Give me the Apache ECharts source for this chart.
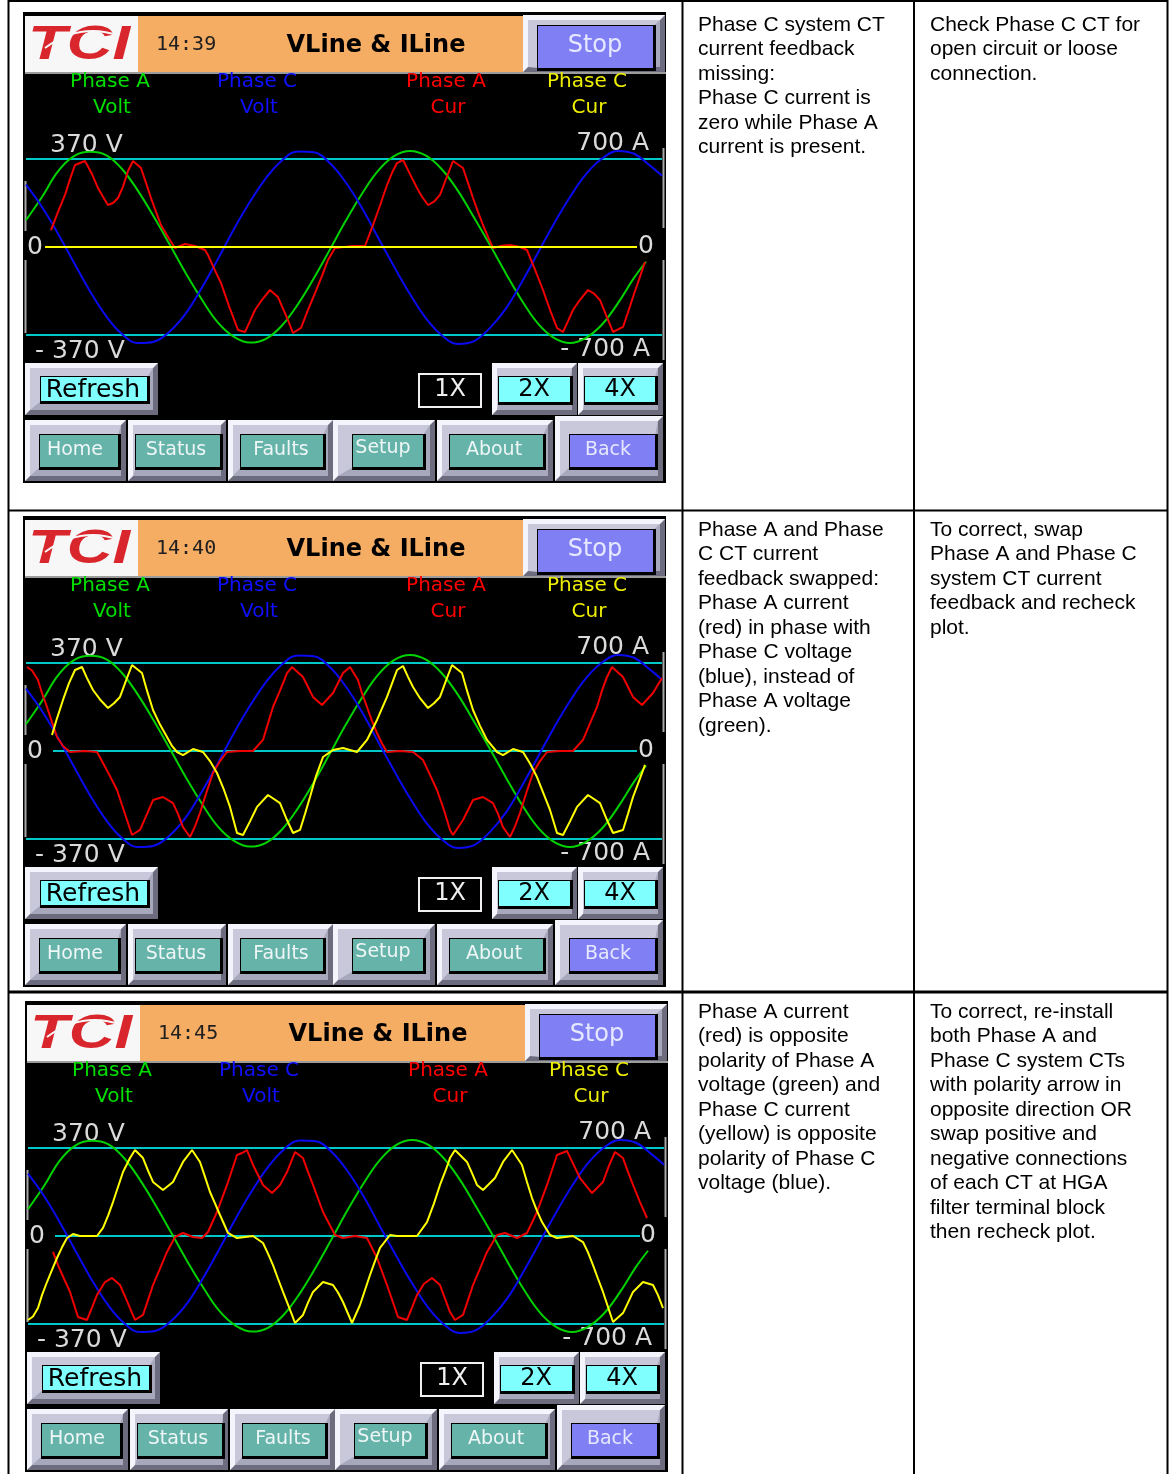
<!DOCTYPE html>
<html><head><meta charset="utf-8">
<script src="https://cdn.jsdelivr.net/npm/echarts@6/dist/echarts.min.js"></script>
<style>html,body{margin:0;padding:0;background:#fff}#c{width:1173px;height:1474px}</style>
</head><body><div id="c"></div><script>
// ---------- DATA (x = sample index across the sweep, 2 px per sample; V in volts, I in amps) ----------
const timeStamps = ['14:39', '14:40', '14:45'];
const legendTop = ['Phase A', 'Phase C', 'Phase A', 'Phase C'];
const legendBottom = ['Volt', 'Volt', 'Cur', 'Cur'];
const voltTicks = ['370 V', '0', '- 370 V'];
const currTicks = ['700 A', '0', '- 700 A'];
const voltRange = [-370, 370];
const currRange = [-700, 700];
const navButtons = ['Home', 'Status', 'Faults', 'Setup', 'About', 'Back'];
const zoomButtons = ['1X', '2X', '4X'];

// Phase voltages (same in all three screens)
const phaseAVolt = [[0,113],[8,210],[16,318],[24,382],[32,400],[40,386],[48,328],[56,236],[64,126],[72,8],[80,-112],[88,-222],[96,-318],[104,-378],[112,-402],[120,-386],[128,-330],[136,-240],[144,-130],[152,-10],[160,112],[168,224],[176,320],[184,382],[192,404],[200,384],[208,326],[216,236],[224,124],[232,8],[240,-112],[248,-226],[256,-322],[264,-382],[272,-404],[280,-382],[288,-326],[296,-236],[304,-130],[310,-62]];
const phaseCVolt = [[0,262],[8,168],[16,56],[24,-66],[32,-186],[40,-290],[48,-366],[56,-404],[64,-398],[72,-354],[80,-278],[88,-170],[96,-50],[104,76],[112,190],[120,290],[128,364],[136,402],[144,398],[152,352],[160,270],[168,164],[176,40],[184,-82],[192,-198],[200,-300],[208,-372],[216,-408],[224,-396],[232,-340],[240,-258],[248,-146],[256,-24],[264,98],[272,210],[280,306],[288,372],[296,404],[304,392],[312,342],[318,300]];

// Screen 1: Phase C CT missing
const p1PhaseACur = [[12.5,135],[16,280],[19.5,414],[22,540],[24.5,652],[27,668],[29.5,684],[33,580],[36,469],[38.5,400],[41,334],[43.5,350],[46,390],[48.5,480],[51,605],[53.5,684],[57.5,628],[60,510],[62.5,390],[65,280],[67.5,175],[71,80],[74.5,-8],[79.5,24],[84.5,8],[89.5,-24],[91,-64],[94,-170],[97.5,-286],[101.5,-470],[106,-660],[109.5,-676],[112,-590],[114.5,-501],[118,-420],[122,-342],[126,-398],[128.5,-490],[131,-581],[133.5,-684],[137.5,-644],[141,-500],[144.5,-366],[148,-230],[151,-103],[154.5,-8],[159,0],[163.5,8],[169.5,8],[173.5,175],[177,330],[180.5,493],[183,590],[185.5,668],[188.5,692],[192,580],[195.5,469],[198,400],[201,334],[204,360],[207,414],[210,540],[213.5,684],[218.5,628],[221,510],[223.5,390],[226,280],[228.5,175],[231,80],[233.5,-8],[238,10],[242,16],[247,0],[250.5,-24],[254.5,-180],[258.5,-342],[262,-500],[265.5,-644],[268.5,-676],[271,-590],[273.5,-501],[277,-420],[281,-342],[284,-370],[287,-422],[290,-540],[293.5,-676],[298.5,-636],[301,-520],[303.5,-398],[306.5,-260],[309.5,-119]];
const p1PhaseCCur = [[9.5,0],[60,0],[120,0],[180,0],[240,0],[305.5,0]];

// Screen 2: Phase A / Phase C CT swapped
const p2PhaseACur = [[0.5,668],[3,640],[6,565],[8,460],[10.5,350],[13,230],[15.5,111],[18.5,40],[22,-8],[29.5,0],[35.5,-8],[38.5,-95],[42,-200],[45.5,-310],[48,-430],[50.5,-549],[53,-668],[57,-628],[60,-520],[63.5,-390],[68.5,-366],[73.5,-414],[76,-500],[78.5,-605],[82,-684],[84.5,-600],[87,-493],[90,-340],[93.5,-175],[97,-80],[100.5,-8],[107,0],[113.5,0],[118.5,88],[121,220],[123.5,350],[127,480],[130.5,620],[133,668],[138.5,589],[143.5,430],[148,366],[153.5,461],[158.5,620],[162,668],[166,565],[168,460],[170.5,350],[173,240],[175.5,143],[178,60],[180.5,-8],[187,0],[193.5,-8],[198.5,-72],[202,-190],[205.5,-310],[209,-470],[212,-628],[213.5,-668],[218.5,-549],[223.5,-390],[228.5,-366],[233.5,-414],[236,-500],[238.5,-605],[242,-684],[244.5,-600],[247,-493],[250,-340],[253.5,-175],[257,-80],[260.5,-8],[267,0],[273.5,0],[278.5,88],[282,220],[285.5,350],[288,480],[290.5,589],[293,668],[298.5,589],[303.5,430],[308,366],[313.5,461],[318,581]];
const p2PhaseCCur = [[13,127],[15.5,260],[18.5,406],[21.5,540],[24.5,644],[28,668],[30.5,580],[33.5,485],[37,410],[41,342],[44,380],[47,430],[50,560],[53,684],[58,620],[60.5,480],[63.5,326],[67,210],[70.5,111],[73,40],[75.5,-8],[78.5,-32],[83.5,16],[88.5,-8],[92,-80],[95.5,-175],[99,-310],[102,-445],[105.5,-652],[108.5,-668],[112,-560],[115.5,-445],[121,-350],[127,-414],[130.5,-549],[133.5,-652],[137,-628],[139.5,-500],[142,-366],[145,-200],[148.5,-48],[153.5,8],[158.5,24],[165.5,-8],[170.5,88],[175.5,247],[180.5,430],[185.5,644],[188.5,676],[191,590],[193.5,509],[197,420],[201,342],[204,380],[207,430],[210,560],[213,684],[218,620],[220.5,480],[223.5,326],[227,200],[230.5,88],[235.5,-8],[238.5,-32],[243.5,16],[248.5,-8],[252,-100],[255.5,-207],[262,-469],[265.5,-652],[268.5,-668],[272,-560],[275.5,-445],[281,-350],[287,-414],[290.5,-549],[293.5,-652],[298.5,-628],[301,-500],[303.5,-366],[306.5,-240],[309.5,-111]];

// Screen 3: both CTs reversed polarity
const p3PhaseACur = [[12.5,-127],[15,-231],[18,-340],[21,-445],[25,-644],[29.5,-668],[32,-570],[34.5,-469],[38.5,-366],[42,-334],[46,-390],[48.5,-480],[51,-573],[53.5,-668],[57.5,-628],[60,-510],[62.5,-390],[66,-260],[69.5,-127],[73.5,-8],[77.5,24],[82.5,-8],[87,-16],[90,32],[94.5,191],[99.5,406],[104.5,644],[107,660],[109.5,684],[112.5,565],[117.5,406],[122,342],[126,406],[129.5,509],[133.5,668],[137.5,620],[140,510],[142.5,406],[147.5,191],[153.5,8],[157.5,-16],[163.5,0],[169.5,-16],[174.5,-175],[179.5,-390],[185,-644],[189.5,-668],[192,-570],[194.5,-469],[198,-380],[202,-334],[206,-390],[211,-605],[213.5,-668],[217.5,-628],[220,-510],[222.5,-390],[226,-260],[229.5,-127],[234.5,8],[238.5,24],[244.5,-16],[249.5,24],[254.5,191],[259.5,406],[264.5,644],[269.5,676],[273,560],[276,461],[282,342],[287.5,430],[290.5,560],[293.5,668],[297.5,620],[300,510],[302.5,406],[306,270],[309.5,143]];
const p3PhaseCCur = [[0,-668],[2.5,-640],[5,-573],[7,-470],[9.5,-366],[12,-270],[14.5,-175],[17,-90],[19.5,-16],[22.5,16],[26,0],[34.5,0],[37.5,64],[40,160],[42.5,270],[45,390],[47.5,509],[51,620],[53.5,684],[57.5,620],[60,520],[62.5,430],[67.5,366],[72.5,430],[75,510],[77.5,589],[82,684],[86,589],[88.5,470],[91,350],[93.5,260],[96,167],[100,24],[104.5,-16],[112.5,0],[117.5,-56],[120,-140],[122.5,-231],[125,-340],[127.5,-445],[132,-628],[133.5,-692],[137.5,-628],[140,-530],[142.5,-445],[147.5,-366],[152.5,-390],[155,-450],[157.5,-525],[162,-692],[166,-549],[168.5,-430],[171,-310],[173.5,-200],[176,-95],[181,8],[184.5,0],[194.5,0],[199.5,111],[203,260],[206,406],[209,530],[211,620],[213.5,684],[219.5,589],[222,500],[224.5,406],[227.5,366],[233.5,461],[237.5,589],[242,684],[247,565],[249.5,430],[252,302],[254.5,200],[257,111],[261,8],[264.5,-16],[272.5,0],[277.5,-48],[280,-130],[282.5,-231],[285,-340],[287.5,-445],[292.5,-684],[297.5,-613],[300,-530],[302.5,-445],[307.5,-366],[312.5,-390],[315,-470],[317.5,-573]];

const causeLines = [
  ['Phase C system CT', 'current feedback', 'missing:', 'Phase C current is', 'zero while Phase A', 'current is present.'],
  ['Phase A and Phase', 'C CT current', 'feedback swapped:', 'Phase A current', '(red) in phase with', 'Phase C voltage', '(blue), instead of', 'Phase A voltage', '(green).'],
  ['Phase A current', '(red) is opposite', 'polarity of Phase A', 'voltage (green) and', 'Phase C current', '(yellow) is opposite', 'polarity of Phase C', 'voltage (blue).']
];
const actionLines = [
  ['Check Phase C CT for', 'open circuit or loose', 'connection.'],
  ['To correct, swap', 'Phase A and Phase C', 'system CT current', 'feedback and recheck', 'plot.'],
  ['To correct, re-install', 'both Phase A and', 'Phase C system CTs', 'with polarity arrow in', 'opposite direction OR', 'swap positive and', 'negative connections', 'of each CT at HGA', 'filter terminal block', 'then recheck plot.']
];

// ---------- LAYOUT / STYLE ----------
const panels = [
  {ox: 23, oy: 12, zeroStart: 9.5, zeroEnd: 305.5, aCur: p1PhaseACur, cCur: p1PhaseCCur, rowTop: 12.75},
  {ox: 23, oy: 516, zeroStart: 13.5, zeroEnd: 305.5, aCur: p2PhaseACur, cCur: p2PhaseCCur, rowTop: 517.75},
  {ox: 25, oy: 1001, zeroStart: 13.5, zeroEnd: 306, aCur: p3PhaseACur, cCur: p3PhaseCCur, rowTop: 999.75}
];
const COL = {green: '#00D200', blue: '#0A0AF0', red: '#F00000', yellow: '#FFFF00', cyan: '#00C8C8'};
const legendColors = ['#00E000', '#1010FF', '#FF0000', '#EEEE00'];
const legendX = [87, 234, 423, 564];
const DJ = '"DejaVu Sans"';

const graphics = [];
function add(e) { e.silent = true; graphics.push(e); }

function bevel(ox, oy, x, y, w, h, fx, fy, fw, fh, face) {
  x += ox; y += oy; fx += ox; fy += oy;
  add({type: 'rect', z: 1, shape: {x, y, width: w, height: h}, style: {fill: '#6C6C7E'}});
  add({type: 'polygon', z: 1, shape: {points: [[x, y], [x + w, y], [x + w - 5, y + 5], [x + 5, y + 5], [x + 5, y + h - 5], [x, y + h]]}, style: {fill: '#F4F4FC'}});
  add({type: 'rect', z: 1, shape: {x: x + 5, y: y + 5, width: w - 10, height: h - 10}, style: {fill: '#A8A8BC'}});
  add({type: 'polygon', z: 1, shape: {points: [[x + 5, y + 5], [x + w - 5, y + 5], [fx + fw, fy], [fx, fy], [fx, fy + fh], [x + 5, y + h - 5]]}, style: {fill: '#C8C8DA'}});
  add({type: 'rect', z: 1, shape: {x: fx - 1, y: fy - 1, width: fw + 4, height: fh + 4}, style: {fill: '#000'}});
  add({type: 'rect', z: 1, shape: {x: fx, y: fy, width: fw, height: fh}, style: {fill: face}});
}
function txt(x, y, text, font, fill, align) {
  add({type: 'text', z: 2, style: {x, y, text, font, fill, align: align || 'center', verticalAlign: 'middle'}});
}

panels.forEach((p, i) => {
  const ox = p.ox, oy = p.oy;
  add({type: 'rect', z: 0, shape: {x: ox, y: oy, width: 643, height: 471}, style: {fill: '#000'}});
  add({type: 'rect', z: 1, shape: {x: ox + 2, y: oy + 4, width: 113, height: 56}, style: {fill: '#F7F7F7'}});
  add({type: 'rect', z: 1, shape: {x: ox + 115, y: oy + 4, width: 386, height: 56}, style: {fill: '#F5AC63'}});
  add({type: 'rect', z: 1, shape: {x: ox + 2, y: oy + 60, width: 641, height: 2}, style: {fill: '#9C9C9C'}});
  // logo
  add({type: 'text', z: 2, x: ox + 56, y: oy + 34, scaleX: 1.32, style: {x: 0, y: 0, text: 'TCI', font: 'italic bold 48px "Liberation Sans"', fill: '#D8262C', align: 'center', verticalAlign: 'middle'}});
  add({type: 'bezierCurve', z: 3, shape: {x1: ox + 22, y1: oy + 36, cpx1: ox + 58, cpy1: oy + 10, x2: ox + 96, y2: oy + 24}, style: {stroke: '#F7F7F7', lineWidth: 2, fill: null}});
  txt(ox + 133, oy + 33, timeStamps[i], '20px "DejaVu Sans Mono"', '#202020', 'left');
  txt(ox + 353, oy + 34, 'VLine & ILine', 'bold 24px ' + DJ, '#000');
  bevel(ox, oy, 500, 3, 142, 57, 515, 14, 115, 42, '#8080F4');
  txt(ox + 572, oy + 34, 'Stop', '24px ' + DJ, '#E6E8FF');
  // legend
  legendTop.forEach((t, k) => {
    txt(ox + legendX[k], oy + 70, t, '20px ' + DJ, legendColors[k]);
    txt(ox + legendX[k] + 2, oy + 96, legendBottom[k], '20px ' + DJ, legendColors[k]);
  });
  // scale labels
  const lf = '25px ' + DJ, lc = '#DADADA';
  txt(ox + 27, oy + 133, voltTicks[0], lf, lc, 'left');
  txt(ox + 4, oy + 235, voltTicks[1], lf, lc, 'left');
  txt(ox + 12, oy + 339, voltTicks[2], lf, lc, 'left');
  txt(ox + 626, oy + 131, currTicks[0], lf, lc, 'right');
  txt(ox + 615, oy + 234, currTicks[1], lf, lc, 'left');
  txt(ox + 627, oy + 337, currTicks[2], lf, lc, 'right');
  // edge bars
  [[2.5, 169, 219], [2.5, 248, 321], [640.5, 136, 216], [640.5, 248, 348]].forEach(b => {
    add({type: 'line', z: 1, shape: {x1: ox + b[0], y1: oy + b[1], x2: ox + b[0], y2: oy + b[2]}, style: {stroke: '#A8A8A8', lineWidth: 2}});
  });
  // refresh + zoom buttons
  bevel(ox, oy, 2, 351, 133, 52, 18, 365, 106, 24, '#80FFFF');
  txt(ox + 70, oy + 378, 'Refresh', '25px ' + DJ, '#000');
  add({type: 'rect', z: 1, shape: {x: ox + 396, y: oy + 362, width: 62, height: 33}, style: {fill: '#000', stroke: '#F0F0F0', lineWidth: 2}});
  txt(ox + 427, oy + 378, zoomButtons[0], '24px ' + DJ, '#F0F0F0');
  bevel(ox, oy, 469, 351, 85, 52, 476, 365, 71, 25, '#80FFFF');
  txt(ox + 511, oy + 378, zoomButtons[1], '24px ' + DJ, '#000');
  bevel(ox, oy, 555, 351, 85, 52, 562, 365, 70, 25, '#80FFFF');
  txt(ox + 597, oy + 378, zoomButtons[2], '24px ' + DJ, '#000');
  // navigation buttons
  const nav = [[2, 101, 17, 78, 52], [105, 98, 113, 84, 153], [205, 105, 218, 82, 258], [310, 102, 330, 70, 360], [414, 116, 427, 93, 471], [532, 108, 547, 85, 585]];
  nav.forEach((n, k) => {
    const back = k === 5;
    bevel(ox, oy, n[0], back ? 404 : 408, n[1], back ? 65 : 61, n[2], 423, n[3], 32, back ? '#8080F4' : '#66B3AA');
    txt(ox + n[4], oy + (k === 3 ? 436 : 438), navButtons[k], '19px ' + DJ, back ? '#E6E8FF' : '#EEF6F6');
  });
  // table text
  add({type: 'text', z: 2, style: {x: 698, y: p.rowTop, text: causeLines[i].join('\n'), font: '21px "Liberation Sans", Arial', lineHeight: 24.5, fill: '#000', align: 'left', verticalAlign: 'top'}});
  add({type: 'text', z: 2, style: {x: 930, y: p.rowTop, text: actionLines[i].join('\n'), font: '21px "Liberation Sans", Arial', lineHeight: 24.5, fill: '#000', align: 'left', verticalAlign: 'top'}});
});

// table rules
[[8, 1, 1168, 1, 2], [8, 510.5, 1168, 510.5, 2], [8, 992, 1168, 992, 3], [8.5, 0, 8.5, 1474, 2], [682.5, 0, 682.5, 1474, 2], [914, 0, 914, 1474, 2], [1167.5, 0, 1167.5, 1474, 2]].forEach(l => {
  add({type: 'line', z: 5, shape: {x1: l[0], y1: l[1], x2: l[2], y2: l[3]}, style: {stroke: '#000', lineWidth: l[4]}});
});

// ---------- CHART ----------
const grids = [], xAxes = [], yAxes = [], series = [];
const extra = 1.25;
panels.forEach((p, i) => {
  grids.push({left: p.ox + 3, top: p.oy + 235 - 110, width: 636, height: 220, show: false});
  xAxes.push({type: 'value', gridIndex: i, min: 0, max: 318, show: false});
  yAxes.push({type: 'value', gridIndex: i, min: voltRange[0] * extra, max: voltRange[1] * extra, show: false});
  yAxes.push({type: 'value', gridIndex: i, min: currRange[0] * extra, max: currRange[1] * extra, show: false});
  const vy = 2 * i, cy = 2 * i + 1;
  series.push({
    type: 'line', xAxisIndex: i, yAxisIndex: vy, data: [], z: 2, silent: true,
    markLine: {silent: true, z: 2, symbol: ['none', 'none'], label: {show: false}, animation: false,
      lineStyle: {color: COL.cyan, width: 2, type: 'solid'},
      data: [{yAxis: voltRange[1]}, {yAxis: voltRange[0]}, [{coord: [p.zeroStart, 0]}, {coord: [p.zeroEnd, 0]}]]}
  });
  const base = {type: 'line', xAxisIndex: i, symbol: 'none', showSymbol: false, silent: true, z: 10};
  series.push(Object.assign({}, base, {name: 'Phase A Volt', yAxisIndex: vy, data: phaseAVolt, smooth: 0.4, lineStyle: {color: COL.green, width: 2}}));
  series.push(Object.assign({}, base, {name: 'Phase C Volt', yAxisIndex: vy, data: phaseCVolt, smooth: 0.4, lineStyle: {color: COL.blue, width: 2}}));
  series.push(Object.assign({}, base, {name: 'Phase A Cur', yAxisIndex: cy, data: p.aCur, lineStyle: {color: COL.red, width: 2}}));
  series.push(Object.assign({}, base, {name: 'Phase C Cur', yAxisIndex: cy, data: p.cCur, lineStyle: {color: COL.yellow, width: 2}}));
});

const chart = echarts.init(document.getElementById('c'), null, {renderer: 'canvas'});
chart.setOption({
  animation: false,
  backgroundColor: '#ffffff',
  grid: grids, xAxis: xAxes, yAxis: yAxes, series: series,
  graphic: {elements: graphics}
});
</script></body></html>
